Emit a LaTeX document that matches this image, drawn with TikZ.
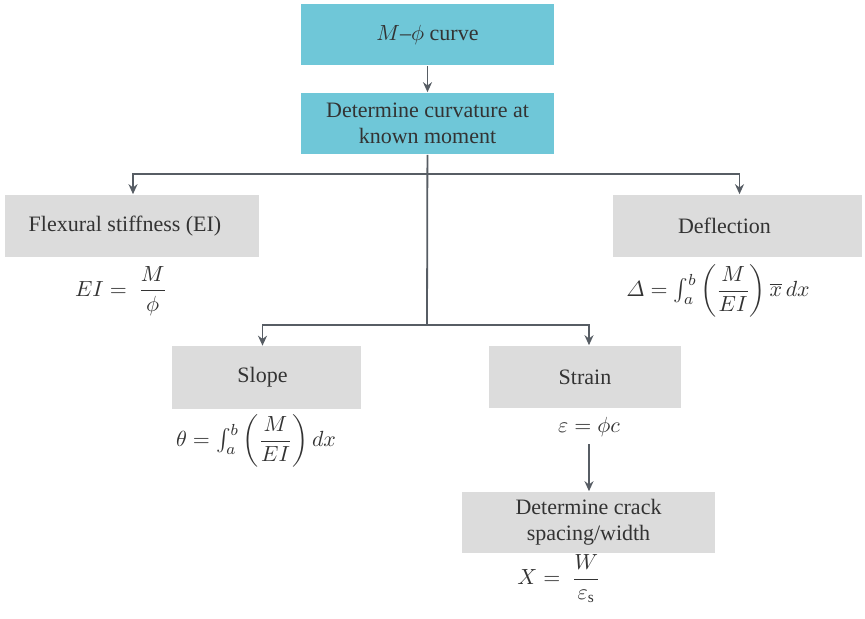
\documentclass[tikz,border=0pt]{standalone}
\usepackage{amsmath}
\usepackage{fontspec}
\setmainfont{Liberation Serif}
\usepackage{tikz}
\usetikzlibrary{arrows.meta}

\definecolor{boxcyan}{HTML}{6FC7D8}
\definecolor{boxgrey}{HTML}{DCDCDC}
\definecolor{linegrey}{HTML}{575D64}

\begin{document}
\begin{tikzpicture}[x=0.5pt,y=-0.5pt,>={Stealth[length=5pt,width=4.5pt]},thick,
  font=\fontsize{11}{13}\selectfont]
  \tikzstyle{every node}=[text=black!80, align=center]
  \tikzstyle{main}=[fill=boxcyan, minimum width=126.5pt, minimum height=30.5pt]
  \tikzstyle{sub}=[fill=boxgrey, minimum height=31pt]
  \tikzstyle{link}=[draw=linegrey, line width=0.9pt]

  \useasboundingbox (0,0) rectangle (865,619);

  % boxes
  \node[main] (curve) at (427.5,35) {$M$--$\phi$ curve};
  \node[main] (curv) at (427.5,123.5) {Determine curvature at\\ known moment};
  \node[sub,minimum width=127pt] (flex) at (132,226) {Flexural stiffness (EI)\hspace*{7pt}};
  \node[sub,minimum width=124.5pt] (defl) at (737.5,226) {Deflection\hspace*{13pt}};
  \node[sub,minimum width=94.5pt] (slope) at (266.5,377.5) {Slope\hspace*{4pt}};
  \node[sub,minimum width=96pt] (strain) at (585,377) {Strain};
  \node[sub,minimum width=126.5pt,minimum height=30.5pt] (crack) at (588.5,522.5)
    {Determine crack\\ spacing/width};

  % formulas
  \node (fEI) at (121,291) {$EI = \ \dfrac{M}{\phi}$};
  \node (fdefl) at (718,291) {$\varDelta = \int_a^b \left(\dfrac{M}{EI}\right) \overline{x}\, dx$};
  \node (fslope) at (256,441) {$\theta = \int_a^b \left(\dfrac{M}{EI}\right) dx$};
  \node (feps) at (589,427) {$\varepsilon = \phi c$};
  \node (fX) at (559,579) {$X = \ \dfrac{W}{\varepsilon_{\mathrm{s}}}$};

  % branch points
  \coordinate (top) at (427,174);
  \coordinate (bot) at (427,325);

  \path[link,->]
  (curve) edge (curv)
  (feps) edge (feps |- crack.north)
  ;
  \draw[link] (curv) -- (bot);
  \draw[link,->] (top) -| ([xshift=0.5pt]flex.north);
  \draw[link,->] (top) -| ([xshift=1pt]defl.north);
  \draw[link,->] (bot) -| ([xshift=-2pt]slope.north);
  \draw[link,->] (bot) -| ([xshift=2pt]strain.north);

\end{tikzpicture}
\end{document}
